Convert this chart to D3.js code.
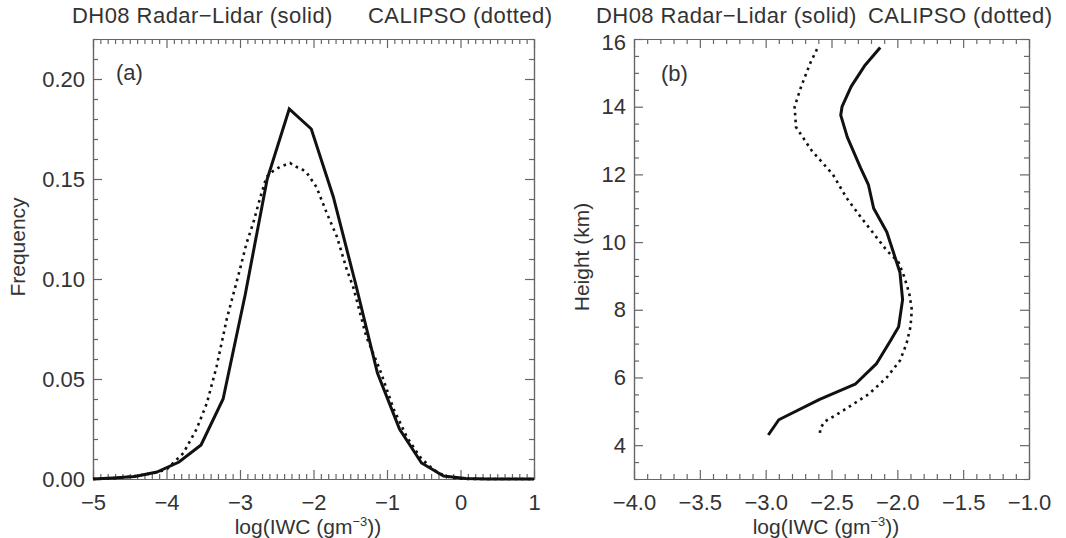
<!DOCTYPE html>
<html>
<head>
<meta charset="utf-8">
<script src="https://cdn.jsdelivr.net/npm/d3@7/dist/d3.min.js"></script>
<style>
  html, body { margin: 0; padding: 0; background: #fff; }
  svg { display: block; }
  text { font-family: "Liberation Sans", Arial, Helvetica, sans-serif; fill: #333; }
</style>
</head>
<body>
<svg id="chart" width="1066" height="538"></svg>
<script>
// ---------------- data ----------------
// Panel (a): frequency distribution of log(IWC)
const aSolidLogIWC = [-5.0, -4.73, -4.43, -4.13, -3.83, -3.53, -3.23, -2.93, -2.63, -2.33, -2.03, -1.73, -1.43, -1.13, -0.83, -0.53, -0.23, 0.07, 0.37, 0.67, 1.0];
const aSolidFreq   = [0.0, 0.0005, 0.0013, 0.0035, 0.0085, 0.017, 0.040, 0.092, 0.150, 0.185, 0.175, 0.141, 0.098, 0.053, 0.025, 0.008, 0.0015, 0.0002, 0.0, 0.0, 0.0];

const aDotLogIWC = [-5.0, -4.7, -4.46, -4.2, -4.0, -3.77, -3.59, -3.45, -3.32, -3.18, -3.0, -2.91, -2.82, -2.73, -2.64, -2.55, -2.46, -2.39, -2.32, -2.23, -2.16, -2.09, -1.96, -1.82, -1.68, -1.55, -1.46, -1.28, -1.10, -0.91, -0.73, -0.55, -0.42, -0.30, -0.14, 0.0, 0.3, 1.0];
const aDotFreq   = [0.0, 0.0004, 0.0013, 0.0028, 0.0047, 0.013, 0.025, 0.038, 0.056, 0.080, 0.105, 0.118, 0.128, 0.140, 0.151, 0.154, 0.156, 0.157, 0.158, 0.156, 0.155, 0.153, 0.146, 0.133, 0.121, 0.105, 0.096, 0.071, 0.055, 0.035, 0.021, 0.011, 0.0063, 0.003, 0.0007, 0.0001, 0.0, 0.0];

// Panel (b): mean log(IWC) vs height
const bSolidHeight = [15.75, 15.2, 14.6, 14.0, 13.75, 13.1, 12.2, 11.7, 11.0, 10.3, 9.1, 8.3, 7.5, 7.1, 6.4, 5.8, 5.35, 4.75, 4.3];
const bSolidLogIWC = [-2.13, -2.25, -2.35, -2.42, -2.43, -2.38, -2.28, -2.22, -2.18, -2.08, -1.98, -1.96, -1.99, -2.05, -2.16, -2.32, -2.59, -2.90, -2.98];

const bDotHeight = [15.7, 15.3, 14.6, 14.0, 13.4, 12.7, 12.0, 11.3, 10.75, 10.25, 9.75, 9.4, 9.0, 8.5, 8.0, 7.5, 7.0, 6.5, 6.0, 5.5, 5.0, 4.7, 4.5, 4.25];
const bDotLogIWC = [-2.61, -2.66, -2.73, -2.78, -2.77, -2.65, -2.49, -2.385, -2.28, -2.18, -2.08, -1.99, -1.95, -1.91, -1.89, -1.90, -1.93, -1.98, -2.08, -2.22, -2.42, -2.55, -2.585, -2.59];

// ticks / labels
const aXTicks = [-5, -4, -3, -2, -1, 0, 1];
const aYTicks = [0.00, 0.05, 0.10, 0.15, 0.20];
const bXTicks = [-4.0, -3.5, -3.0, -2.5, -2.0, -1.5, -1.0];
const bYTicks = [4, 6, 8, 10, 12, 14, 16];
const titleLeft = "DH08 Radar\u2212Lidar (solid)";
const titleRight = "CALIPSO (dotted)";
const panelLabels = ["(a)", "(b)"];
const aYTitle = "Frequency";
const bYTitle = "Height (km)";

// ---------------- drawing ----------------
const svg = d3.select("#chart");
const FS = 22;
const axisColor = "#666";

function minorTicks(lo, hi, step, majors) {
  const out = [];
  const n = Math.round((hi - lo) / step);
  for (let i = 0; i <= n; i++) {
    const v = +(lo + i * step).toFixed(6);
    if (!majors.some(m => Math.abs(m - v) < 1e-6)) out.push(v);
  }
  return out;
}

function styleAxis(g) {
  g.selectAll("path.domain").attr("stroke", axisColor).attr("stroke-width", 1.2);
  g.selectAll(".tick line").attr("stroke", axisColor).attr("stroke-width", 1.2);
  g.selectAll("text").attr("font-size", FS).attr("fill", "#333")
    .attr("font-family", "Liberation Sans, Arial, sans-serif");
}

function drawFrame(x, y, xMaj, xMin, yMaj, yMin, xFmt, yFmt) {
  const [x0, x1] = x.range();
  const [y0, y1] = y.range(); // y0 bottom, y1 top
  // bottom
  svg.append("g").attr("transform", `translate(0,${y0})`)
    .call(d3.axisBottom(x).tickValues(xMin).tickSize(-5).tickSizeOuter(0).tickFormat(""))
    .call(styleAxis);
  svg.append("g").attr("transform", `translate(0,${y0})`)
    .call(d3.axisBottom(x).tickValues(xMaj).tickSize(-9).tickSizeOuter(0).tickPadding(15).tickFormat(xFmt))
    .call(styleAxis);
  // top
  svg.append("g").attr("transform", `translate(0,${y1})`)
    .call(d3.axisTop(x).tickValues(xMin).tickSize(-5).tickSizeOuter(0).tickFormat(""))
    .call(styleAxis);
  svg.append("g").attr("transform", `translate(0,${y1})`)
    .call(d3.axisTop(x).tickValues(xMaj).tickSize(-9).tickSizeOuter(0).tickFormat(""))
    .call(styleAxis);
  // left
  svg.append("g").attr("transform", `translate(${x0},0)`)
    .call(d3.axisLeft(y).tickValues(yMin).tickSize(-5).tickSizeOuter(0).tickFormat(""))
    .call(styleAxis);
  const left = svg.append("g").attr("transform", `translate(${x0},0)`)
    .call(d3.axisLeft(y).tickValues(yMaj).tickSize(-9).tickSizeOuter(0).tickPadding(8).tickFormat(yFmt))
    .call(styleAxis);
  // right
  svg.append("g").attr("transform", `translate(${x1},0)`)
    .call(d3.axisRight(y).tickValues(yMin).tickSize(-5).tickSizeOuter(0).tickFormat(""))
    .call(styleAxis);
  svg.append("g").attr("transform", `translate(${x1},0)`)
    .call(d3.axisRight(y).tickValues(yMaj).tickSize(-9).tickSizeOuter(0).tickFormat(""))
    .call(styleAxis);
  return left;
}

function xTitle(cx, yBase) {
  const t = svg.append("text").attr("x", cx).attr("y", yBase)
    .attr("text-anchor", "middle").attr("font-size", 21);
  t.append("tspan").text("log(IWC (gm");
  t.append("tspan").attr("font-size", 13).attr("dy", -8).text("\u2212" + "3");
  t.append("tspan").attr("dy", 8).text("))");
}

function title(x, y, txt) {
  svg.append("text").attr("x", x).attr("y", y).attr("font-size", FS)
    .attr("letter-spacing", 0.45).text(txt);
}

// ---------- Panel (a) ----------
const xa = d3.scaleLinear().domain([-5, 1]).range([93, 534]);
const ya = d3.scaleLinear().domain([0, 0.22]).range([479, 39]);

drawFrame(xa, ya,
  aXTicks, minorTicks(-5, 1, 0.1, aXTicks),
  aYTicks, minorTicks(0, 0.22, 0.01, aYTicks),
  d3.format("d"), d3.format(".2f"));

const lineA = d3.line().x(d => xa(d[0])).y(d => ya(d[1]));
const aSolid = aSolidLogIWC.map((v, i) => [v, aSolidFreq[i]]);
const aDot = aDotLogIWC.map((v, i) => [v, aDotFreq[i]]);

svg.append("path").datum(aDot).attr("d", lineA)
  .attr("fill", "none").attr("stroke", "#111").attr("stroke-width", 2.6)
  .attr("stroke-dasharray", "2.6 4.2");
svg.append("path").datum(aSolid).attr("d", lineA)
  .attr("fill", "none").attr("stroke", "#111").attr("stroke-width", 3)
  .attr("stroke-linejoin", "miter");

svg.append("text").attr("x", 116).attr("y", 80).attr("font-size", FS).text(panelLabels[0]);

title(72, 23, titleLeft);
title(368, 23, titleRight);

svg.append("text").attr("transform", "translate(25,247) rotate(-90)")
  .attr("text-anchor", "middle").attr("font-size", 21).text(aYTitle);
xTitle(308, 534);

// ---------- Panel (b) ----------
const xb = d3.scaleLinear().domain([-4, -1]).range([634, 1029]);
const yb = d3.scaleLinear().domain([3, 16]).range([479, 39]);

const bLeft = drawFrame(xb, yb,
  bXTicks, minorTicks(-4, -1, 0.1, bXTicks),
  bYTicks, minorTicks(3, 16, 0.5, bYTicks),
  d3.format(".1f"), d3.format("d"));
// nudge the top label so it clears the panel title
bLeft.selectAll(".tick").filter(d => d === 16).select("text").attr("dy", "0.48em");

const lineB = d3.line().x(d => xb(d[1])).y(d => yb(d[0]));
const bSolid = bSolidHeight.map((h, i) => [h, bSolidLogIWC[i]]);
const bDot = bDotHeight.map((h, i) => [h, bDotLogIWC[i]]);

svg.append("path").datum(bDot).attr("d", lineB)
  .attr("fill", "none").attr("stroke", "#111").attr("stroke-width", 2.6)
  .attr("stroke-dasharray", "2.6 4.2");
svg.append("path").datum(bSolid).attr("d", lineB)
  .attr("fill", "none").attr("stroke", "#111").attr("stroke-width", 3)
  .attr("stroke-linejoin", "round");

svg.append("text").attr("x", 661).attr("y", 81).attr("font-size", FS).text(panelLabels[1]);

title(596, 23, titleLeft);
title(868, 23, titleRight);

svg.append("text").attr("transform", "translate(589,257) rotate(-90)")
  .attr("text-anchor", "middle").attr("font-size", 21).text(bYTitle);
xTitle(826, 534);
</script>
</body>
</html>
